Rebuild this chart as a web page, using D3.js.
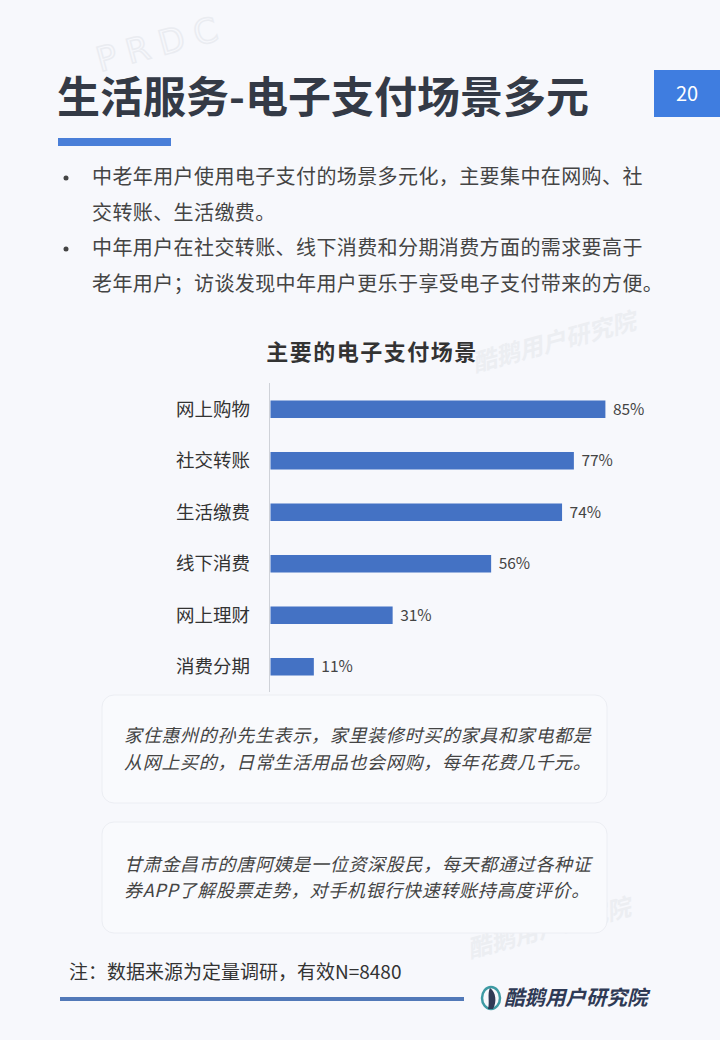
<!DOCTYPE html>
<html>
<head>
<meta charset="utf-8">
<script src="https://cdn.jsdelivr.net/npm/d3@7"></script>
<style>
  body { margin: 0; background: #f7f8fc; }
  svg { display: block; font-family: "Noto Sans CJK SC", "Noto Sans", sans-serif; }
</style>
</head>
<body>
<div id="chart"></div>
<script>
// data
const categories = ["网上购物", "社交转账", "生活缴费", "线下消费", "网上理财", "消费分期"];
const values = [85, 77, 74, 56, 31, 11];

const pageTitle = "生活服务-电子支付场景多元";
const pageNo = "20";
const bullets = [
  ["中老年用户使用电子支付的场景多元化，主要集中在网购、社", "交转账、生活缴费。"],
  ["中年用户在社交转账、线下消费和分期消费方面的需求要高于", "老年用户；访谈发现中年用户更乐于享受电子支付带来的方便。"]
];
const chartTitle = "主要的电子支付场景";
const quotes = [
  ["家住惠州的孙先生表示，家里装修时买的家具和家电都是", "从网上买的，日常生活用品也会网购，每年花费几千元。"],
  ["甘肃金昌市的唐阿姨是一位资深股民，每天都通过各种证", "券APP了解股票走势，对手机银行快速转账持高度评价。"]
];
const note = "注：数据来源为定量调研，有效N=8480";
const brand = "酷鹅用户研究院";

const w = 720;
const h = 1040;

const svg = d3.select("#chart")
    .append("svg")
    .attr("width", w)
    .attr("height", h);

svg.append("rect")
    .attr("width", w)
    .attr("height", h)
    .attr("fill", "#f7f8fc");

// faint watermarks, kept in empty spots
const marks = [[100, 72, "prdc"], [475, 372, "brand"], [470, 958, "brand"]];
marks.forEach(m => {
    const g = svg.append("g")
        .attr("transform", "translate(" + m[0] + "," + m[1] + ") rotate(-15)");
    if (m[2] == "prdc") {
        g.append("text")
            .text("PRDC")
            .attr("font-size", 34)
            .attr("font-family", "DejaVu Sans")
            .attr("letter-spacing", 10)
            .attr("fill", "none")
            .attr("stroke", "#eaecf1")
            .attr("stroke-width", 1.5);
    } else {
        g.append("text")
            .text(brand)
            .attr("font-size", 24)
            .attr("font-weight", "bold")
            .attr("font-style", "italic")
            .attr("fill", "#eceef2");
    }
});

// header
svg.append("text")
    .text(pageTitle)
    .attr("x", 57)
    .attr("y", 113)
    .attr("font-size", 43)
    .attr("font-weight", "bold")
    .attr("fill", "#343a46");

svg.append("rect")
    .attr("x", 58)
    .attr("y", 138)
    .attr("width", 113)
    .attr("height", 8)
    .attr("fill", "#4a7fd8");

svg.append("rect")
    .attr("x", 654)
    .attr("y", 70)
    .attr("width", 66)
    .attr("height", 47)
    .attr("fill", "#3f7de0");

svg.append("text")
    .text(pageNo)
    .attr("x", 687)
    .attr("y", 101)
    .attr("text-anchor", "middle")
    .attr("font-size", 20)
    .attr("fill", "#fff");

// bullets
let lineY = 184;
bullets.forEach(b => {
    svg.append("circle")
        .attr("cx", 66)
        .attr("cy", lineY - 6)
        .attr("r", 2.5)
        .attr("fill", "#444");
    b.forEach(line => {
        svg.append("text")
            .text(line)
            .attr("x", 92)
            .attr("y", lineY)
            .attr("font-size", 20)
            .attr("letter-spacing", 0.4)
            .attr("fill", "#444");
        lineY += 35.5;
    });
});

// bar chart
svg.append("text")
    .text(chartTitle)
    .attr("x", 372)
    .attr("y", 360)
    .attr("text-anchor", "middle")
    .attr("font-size", 22)
    .attr("font-weight", "bold")
    .attr("letter-spacing", 1.5)
    .attr("fill", "#333");

const xScale = d3.scaleLinear()
    .domain([0, 100])
    .range([270, 664]);

const yScale = d3.scaleBand()
    .domain(categories)
    .range([383.5, 692.5])
    .paddingInner(0.66)
    .paddingOuter(0.33);

svg.append("line")
    .attr("x1", 269.5)
    .attr("x2", 269.5)
    .attr("y1", 383)
    .attr("y2", 692)
    .attr("stroke", "#cfd2d8")
    .attr("stroke-width", 1);

svg.selectAll(".bar")
    .data(values)
    .enter()
    .append("rect")
    .attr("class", "bar")
    .attr("x", xScale(0) + 0.5)
    .attr("y", (d, i) => yScale(categories[i]))
    .attr("width", d => xScale(d) - xScale(0))
    .attr("height", yScale.bandwidth())
    .attr("fill", "#4472c4");

svg.selectAll(".cat")
    .data(categories)
    .enter()
    .append("text")
    .attr("class", "cat")
    .text(d => d)
    .attr("x", 250)
    .attr("y", d => yScale(d) + yScale.bandwidth() / 2)
    .attr("dy", "0.36em")
    .attr("text-anchor", "end")
    .attr("font-size", 18.5)
    .attr("fill", "#333");

svg.selectAll(".val")
    .data(values)
    .enter()
    .append("text")
    .attr("class", "val")
    .text(d => d + "%")
    .attr("x", d => xScale(d) + 8)
    .attr("y", (d, i) => yScale(categories[i]) + yScale.bandwidth() / 2)
    .attr("dy", "0.36em")
    .attr("font-size", 15.5)
    .attr("fill", "#444");

// quote boxes
const boxes = [[695, 108], [822, 111]];
quotes.forEach((q, i) => {
    const b = boxes[i];
    svg.append("rect")
        .attr("x", 102)
        .attr("y", b[0])
        .attr("width", 505)
        .attr("height", b[1])
        .attr("rx", 12)
        .attr("fill", "#f9fafd")
        .attr("stroke", "#eceef3")
        .attr("stroke-width", 1);
    const cy = b[0] + b[1] / 2;
    q.forEach((line, j) => {
        svg.append("text")
            .text(line)
            .attr("x", 124)
            .attr("y", cy - 13 + j * 26.5)
            .attr("dy", "0.36em")
            .attr("font-size", 18)
            .attr("font-style", "italic")
            .attr("letter-spacing", 0.7)
            .attr("fill", "#444");
    });
});

// footer
svg.append("text")
    .text(note)
    .attr("x", 69)
    .attr("y", 972)
    .attr("dy", "0.36em")
    .attr("font-size", 19)
    .attr("fill", "#333");

svg.append("rect")
    .attr("x", 60)
    .attr("y", 997)
    .attr("width", 404)
    .attr("height", 4)
    .attr("fill", "#5279b8");

const logo = svg.append("g").attr("transform", "translate(491,998)");
logo.append("ellipse")
    .attr("rx", 9)
    .attr("ry", 11)
    .attr("fill", "none")
    .attr("stroke", "#3d9aa3")
    .attr("stroke-width", 2.5);
logo.append("path")
    .attr("d", "M-1,-10 C5,-6 6,4 2,11 L-3,11 C-1,4 -4,-4 -1,-10 Z")
    .attr("fill", "#2f3a55");

svg.append("text")
    .text(brand)
    .attr("x", 504)
    .attr("y", 998)
    .attr("dy", "0.36em")
    .attr("font-size", 20.5)
    .attr("font-weight", "bold")
    .attr("font-style", "italic")
    .attr("fill", "#2f3a55");
</script>
</body>
</html>
